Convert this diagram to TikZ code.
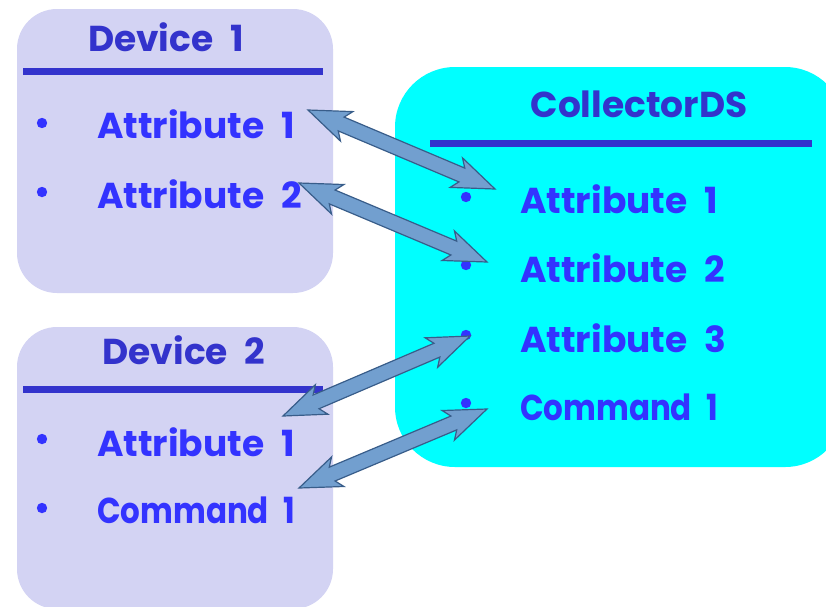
\documentclass[tikz,border=0pt]{standalone}
\usepackage{fontspec}
\setmainfont{Poppins}[WordSpace=2.2]
\usetikzlibrary{calc}
\definecolor{devfill}{RGB}{211,211,243}
\definecolor{colfill}{RGB}{0,255,255}
\definecolor{titleblue}{RGB}{51,51,204}
\definecolor{itemblue}{RGB}{51,51,255}
\definecolor{arrowfill}{RGB}{114,159,207}
\definecolor{arrowline}{RGB}{56,93,138}
% double headed block arrow between two named points
\newcommand{\BlockArrow}[2]{%
    \path ($(#1)!42pt!(#2)$) coordinate (ha) ($(#2)!42pt!(#1)$) coordinate (hb)
          ($(#1)!36pt!(#2)$) coordinate (sa) ($(#2)!36pt!(#1)$) coordinate (sb);
    \draw[blockarrow] (#1) -- ($(ha)!16pt!90:(#1)$) -- ($(sa)!7.5pt!90:(#1)$)
        -- ($(sb)!7.5pt!-90:(#2)$) -- ($(hb)!16pt!-90:(#2)$) -- (#2)
        -- ($(hb)!16pt!90:(#2)$) -- ($(sb)!7.5pt!90:(#2)$)
        -- ($(sa)!7.5pt!-90:(#1)$) -- ($(ha)!16pt!-90:(#1)$) -- cycle;%
}
\newcommand{\Narrow}[1]{\scalebox{0.86}[1]{#1}}
\tikzset{
    devbox/.style={fill=devfill, rounded corners=40pt},
    colbox/.style={fill=colfill, rounded corners=60pt},
    boxtitle/.style={text=titleblue, inner sep=0pt, font=\bfseries\fontsize{36}{40}\selectfont},
    item/.style={text=itemblue, anchor=west, inner sep=0pt, font=\bfseries\fontsize{36}{40}\selectfont},
    itemdot/.style={fill=itemblue},
    headrule/.style={draw=titleblue, line width=6.5pt},
    blockarrow/.style={fill=arrowfill, draw=arrowline, line width=1.2pt, line join=miter},
}

\begin{document}
\begin{tikzpicture}[x=1pt, y=-1pt]
    \useasboundingbox (0,0) rectangle (826,606);
    \clip (0,0) rectangle (826,606);

    % Device 1
    \fill[devbox] (17,9) rectangle (333,293);
    \node[boxtitle] (dev1title) at (166,37) {Device 1};
    \draw[headrule] (23,71.5) -- (323,71.5);
    \coordinate (d1b1) at (42,123);
    \node[item] (d1a1) at (97,124) {Attribute 1};
    \coordinate (d1b2) at (42,192);
    \node[item] (d1a2) at (97,194) {Attribute 2};

    % Device 2
    \fill[devbox] (17,327) rectangle (333,609);
    \node[boxtitle] (dev2title) at (184,350) {Device 2};
    \draw[headrule] (23,389.5) -- (323,389.5);
    \coordinate (d2b1) at (42,439);
    \node[item] (d2a1) at (97,442) {Attribute 1};
    \coordinate (d2b2) at (42,508);
    \node[item] (d2c1) at (97,510) {\Narrow{Command 1}};

    % CollectorDS
    \fill[colbox] (395,67) rectangle (845,467);
    \node[boxtitle] (coltitle) at (639,104) {CollectorDS};
    \draw[headrule] (430,143.5) -- (812,143.5);
    \coordinate (cb1) at (466,197);
    \node[item] (ca1) at (520,199) {Attribute 1};
    \coordinate (cb2) at (466,265);
    \node[item] (ca2) at (520,268) {Attribute 2};
    \coordinate (cb3) at (466,335);
    \node[item] (ca3) at (520,338) {Attribute 3};
    \coordinate (cb4) at (466,403);
    \node[item] (cc1) at (520,407) {\Narrow{Command 1}};

    % bullets
    \foreach \b in {d1b1,d1b2,d2b1,d2b2,cb1,cb2,cb3,cb4}
        \fill[itemdot] (\b) circle (5.2pt);

    % arrow ends
    \coordinate (d1a1e) at (308,110);
    \coordinate (ca1e)  at (495,189);
    \coordinate (d1a2e) at (299,183);
    \coordinate (ca2e)  at (487,262);
    \coordinate (d2a1e) at (283,416);
    \coordinate (ca3e)  at (470,336);
    \coordinate (d2c1e) at (299,488);
    \coordinate (cc1e)  at (487,409);

    \BlockArrow{d1a1e}{ca1e}
    \BlockArrow{d1a2e}{ca2e}
    \BlockArrow{d2a1e}{ca3e}
    \BlockArrow{d2c1e}{cc1e}
\end{tikzpicture}
\end{document}
